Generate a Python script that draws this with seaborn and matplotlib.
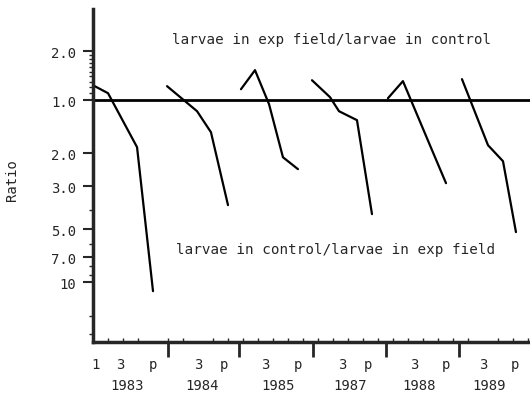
import numpy as np
import pandas as pd
import seaborn as sns
import matplotlib.pyplot as plt
from matplotlib.ticker import FixedLocator

# Sampling positions (x) and log ratio values (y, >0 = more larvae in exp field)
years = ["1983", "1984", "1985", "1987", "1988", "1989"]
x_1983 = [0.0, 1.25, 3.67, 5.0]
y_1983 = [0.083, 0.039, -0.261, -1.061]
x_1984 = [6.17, 8.67, 9.83, 11.25]
y_1984 = [0.078, -0.061, -0.178, -0.583]
x_1985 = [12.33, 13.5, 14.67, 15.83, 17.08]
y_1985 = [0.061, 0.167, -0.022, -0.317, -0.383]
x_1987 = [18.25, 19.75, 20.5, 22.0, 23.25]
y_1987 = [0.111, 0.017, -0.061, -0.111, -0.633]
x_1988 = [24.58, 25.83, 28.08, 29.42]
y_1988 = [0.011, 0.106, -0.25, -0.461]
x_1989 = [30.75, 32.92, 34.17, 35.25]
y_1989 = [0.117, -0.25, -0.339, -0.733]

# axis ticks
ytick_vals = [2.0, 1.0, 2.0, 3.0, 5.0, 7.0, 10]
ytick_pos = [0.272, 0.0, -0.294, -0.478, -0.717, -0.872, -1.011]
ytick_labels = ["2.0", "1.0", "2.0", "3.0", "5.0", "7.0", "10"]
xtick_pos = [0.17, 2.25, 5.0, 8.75, 10.92, 14.33, 17.08, 20.75, 22.92, 26.75, 29.42, 32.5, 35.17]
xtick_labels = ["1", "3", "p", "3", "p", "3", "p", "3", "p", "3", "p", "3", "p"]
year_pos = [2.83, 9.08, 15.42, 21.42, 27.17, 33.0]
sep_pos = [6.25, 12.17, 18.33, 24.42, 30.5]

xs = [x_1983, x_1984, x_1985, x_1987, x_1988, x_1989]
ys = [y_1983, y_1984, y_1985, y_1987, y_1988, y_1989]
df = pd.concat([pd.DataFrame({"x": x, "ratio": y, "year": yr})
                for x, y, yr in zip(xs, ys, years)], ignore_index=True)

sns.set_style("ticks")
plt.rcParams['font.family'] = ['DejaVu Sans Mono', 'DejaVu Sans']

fig = plt.figure(figsize=(5.3, 4.06), dpi=100)
ax = fig.add_axes([0.1755, 0.155, 0.8245, 0.82])

sns.lineplot(data=df, x="x", y="ratio", units="year", estimator=None,
             sort=False, color="black", lw=1.6, ax=ax)
ax.axhline(0, color="black", lw=2)

ax.set_xlim(0, 36.42)
ax.set_ylim(-1.344, 0.506)

# y axis
ax.set_yticks(ytick_pos, labels=ytick_labels)
upper_minor = np.log10(np.arange(1.1, 2.0, 0.1)) / np.log10(2) * ytick_pos[0]
lower_vals = [4.0, 6.0, 8.0, 9.0]
lower_minor = np.interp(np.log10(lower_vals), np.log10(ytick_vals[1:]), ytick_pos[1:])
ax.yaxis.set_minor_locator(FixedLocator(list(upper_minor) + list(lower_minor) + [-1.2, -1.3]))
ax.tick_params(axis="y", which="major", length=7, width=1.5, labelsize=10, pad=5)
ax.tick_params(axis="y", which="minor", length=3, width=1)

# x axis: sample labels
ax.set_xticks(xtick_pos, labels=xtick_labels)
ax.xaxis.set_minor_locator(FixedLocator(np.arange(1.25, 36.4, 1.25)))
ax.tick_params(axis="x", which="major", length=0, labelsize=10, pad=11)
ax.tick_params(axis="x", which="minor", direction="in", length=3, width=1)

# year separators and year labels
sep = ax.secondary_xaxis("bottom")
sep.set_xticks(sep_pos, labels=[])
sep.tick_params(length=11, width=2)
sep.spines["bottom"].set_visible(False)
yr = ax.secondary_xaxis("bottom")
yr.set_xticks(year_pos, labels=years)
yr.tick_params(length=0, labelsize=10, pad=26)
yr.spines["bottom"].set_visible(False)

for side in ["top", "right"]:
    ax.spines[side].set_visible(False)
ax.spines["left"].set_linewidth(2.5)
ax.spines["bottom"].set_linewidth(2.5)

ax.set_xlabel("")
ax.set_ylabel("Ratio", fontsize=10)
ax.yaxis.set_label_coords(-0.17, 0.49)

ax.text(6.58, 0.339, "larvae in exp field/larvae in control", fontsize=10.3, va="center")
ax.text(6.92, -0.828, "larvae in control/larvae in exp field", fontsize=10.3, va="center")

plt.savefig("out.png", dpi=100)
